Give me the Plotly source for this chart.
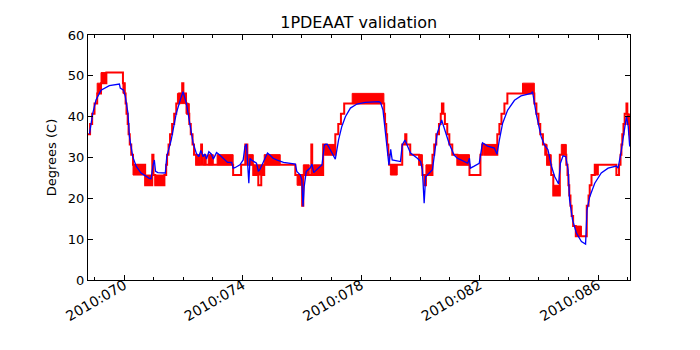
import plotly.graph_objects as go

# model prediction (day of year 2010, degC)
model_day = [68.83, 68.94, 69.05, 69.22, 69.50, 69.84, 69.87, 69.98, 70.04, 70.13, 70.18, 70.29,
             70.41, 70.57, 70.85, 70.91, 70.97, 71.02, 71.06, 71.14, 71.39, 71.44, 71.59, 71.76,
             71.93, 71.99, 72.10, 72.22, 72.33, 72.44, 72.52, 72.59, 72.67, 72.73, 72.78, 72.86,
             72.95, 73.01, 73.12, 73.23, 73.40, 73.49, 73.63, 73.68, 73.74, 73.91, 74.02, 74.08,
             74.13, 74.17, 74.21, 74.25, 74.30, 74.47, 74.53, 74.58, 74.73, 74.84, 74.92, 75.03,
             75.15, 75.38, 75.78, 75.83, 75.95, 76.00, 76.04, 76.08, 76.15, 76.23, 76.28, 76.34,
             76.40, 76.56, 76.68, 76.76, 76.85, 76.96, 77.07, 77.13, 77.24, 77.35, 77.47, 77.64,
             77.86, 78.14, 78.60, 78.66, 78.74, 78.83, 78.94, 79.00, 79.05, 79.33, 79.39, 79.48,
             79.56, 79.67, 79.90, 80.01, 80.07, 80.13, 80.18, 80.29, 80.41, 80.46, 80.57, 80.72,
             80.83, 80.97, 81.14, 81.25, 81.37, 81.60, 81.66, 81.69, 81.82, 81.99, 82.10, 82.27,
             82.50, 82.59, 82.67, 82.78, 82.95, 83.18, 83.40, 83.74, 83.79, 83.91, 84.08, 84.19,
             84.31, 84.43, 84.54, 84.67, 84.73, 84.82, 84.91, 84.99, 85.04, 85.14, 85.27, 85.44,
             85.58, 85.63, 85.72, 85.89, 86.11, 86.34, 86.62, 86.68, 86.79, 86.90, 86.96, 87.02,
             87.07]
model_temp = [35.8, 40.8, 44.1, 46.5, 47.6, 48.0, 47.0, 46.5, 44.9, 40.8, 35.1, 30.2,
              27.8, 26.2, 24.9, 24.8, 27.8, 29.4, 26.6, 26.3, 26.2, 30.2, 34.3, 40.8,
              44.9, 46.1, 43.3, 38.4, 33.5, 31.0, 30.2, 31.7, 30.2, 30.9, 29.6, 31.4,
              30.8, 29.6, 31.2, 30.6, 29.4, 28.8, 28.8, 27.4, 27.5, 28.2, 29.4, 32.7,
              33.3, 29.4, 23.7, 29.8, 29.4, 28.6, 26.6, 27.0, 29.4, 31.1, 30.6, 29.8,
              29.4, 28.8, 28.4, 26.6, 25.7, 24.5, 18.0, 22.9, 26.6, 27.0, 27.4, 28.4,
              26.3, 27.4, 28.2, 33.1, 33.3, 31.9, 30.6, 29.6, 34.3, 37.6, 40.0, 42.1,
              43.1, 43.5, 43.7, 43.4, 41.6, 35.9, 28.2, 32.0, 29.4, 29.0, 33.1, 34.3,
              33.1, 31.1, 29.8, 29.0, 27.0, 18.8, 25.3, 26.2, 27.0, 29.8, 35.9, 39.2,
              36.7, 33.5, 30.6, 29.8, 29.4, 28.6, 29.8, 27.4, 27.9, 28.6, 33.6, 32.8,
              32.3, 30.8, 34.3, 38.4, 41.6, 44.0, 45.1, 45.7, 46.1, 40.8, 35.1, 33.1,
              31.9, 27.8, 25.3, 23.5, 28.6, 30.4, 30.2, 27.0, 19.6, 14.7, 11.5, 9.4,
              8.8, 17.2, 20.4, 23.7, 26.2, 27.4, 27.9, 27.4, 31.9, 37.6, 40.0, 37.6,
              32.7]

# telemetry (quantized, held until next sample)
tlm_day = [68.78, 68.85, 68.92, 69.00, 69.09, 69.22, 69.40, 69.96, 70.02, 70.05, 70.08, 70.12,
           70.15, 70.19, 70.24, 70.30, 70.71, 70.95, 70.99, 71.05, 71.36, 71.42, 71.45, 71.50,
           71.55, 71.62, 71.69, 71.76, 71.86, 71.96, 72.00, 72.09, 72.13, 72.20, 72.25, 72.31,
           72.36, 72.43, 72.60, 72.63, 73.68, 73.95, 74.09, 74.16, 74.36, 74.53, 74.63, 74.73,
           75.78, 76.01, 76.05, 76.32, 76.35, 76.72, 76.79, 77.13, 77.23, 77.32, 77.43, 78.78,
           78.81, 78.85, 78.88, 78.92, 78.95, 79.39, 79.49, 79.53, 79.66, 79.96, 80.07, 80.14,
           80.19, 80.41, 80.47, 80.54, 80.63, 80.69, 80.73, 80.78, 80.83, 80.91, 80.98, 81.08,
           81.25, 81.66, 82.03, 82.09, 82.16, 82.60, 82.67, 82.74, 82.84, 82.94, 83.85, 83.92,
           83.99, 84.05, 84.14, 84.22, 84.28, 84.42, 84.49, 84.71, 84.93, 84.97, 85.00, 85.03,
           85.07, 85.11, 85.16, 85.25, 85.62, 85.68, 85.72, 85.78, 85.89, 86.62, 86.71, 86.76,
           86.79, 86.82, 86.86, 86.90, 86.96, 86.99, 87.06, 87.08]
tlm_temp = [35.7, 38.2, 40.7, 43.2, 45.7, 48.2, 50.8, 48.2, 45.7, 43.2, 40.7, 38.2,
            35.7, 33.2, 30.7, 28.2, 23.2, 30.7, 25.7, 23.2, 25.7, 28.2, 30.7, 33.2,
            35.7, 38.2, 40.7, 43.2, 45.7, 48.2, 45.7, 43.2, 40.7, 38.2, 35.7, 33.2,
            30.7, 28.2, 33.2, 28.2, 25.7, 28.2, 33.2, 28.2, 25.7, 23.2, 25.7, 28.2,
            25.7, 18.2, 25.7, 33.2, 25.7, 33.2, 30.7, 35.7, 38.2, 40.7, 43.2, 40.7,
            38.2, 35.7, 33.2, 30.7, 28.2, 33.2, 35.7, 33.2, 30.7, 28.2, 25.7, 23.2,
            25.7, 30.7, 33.2, 35.7, 38.2, 40.7, 43.2, 40.7, 38.2, 35.7, 33.2, 30.7,
            28.2, 25.7, 30.7, 33.2, 30.7, 35.7, 38.2, 40.7, 43.2, 45.7, 43.2, 40.7,
            38.2, 35.7, 33.2, 30.7, 28.2, 25.7, 20.7, 30.7, 28.2, 25.7, 23.2, 20.7,
            18.2, 15.7, 13.2, 10.7, 18.2, 20.7, 23.2, 25.7, 28.2, 25.7, 28.2, 30.7,
            33.2, 35.7, 38.2, 40.7, 43.2, 38.2, 35.7, 33.2]

# spans where telemetry flickers between two adjacent counts
band_start = [69.09, 69.22, 69.96, 70.30, 70.71, 71.05, 71.80, 72.09, 72.43, 72.67, 72.84, 73.14,
              74.19, 74.36, 74.73, 75.84, 76.05, 76.39, 76.79, 77.70, 78.99, 79.96, 80.19, 81.25,
              82.16, 83.45, 84.22, 84.28, 84.49, 84.76, 85.25, 85.89, 86.99]
band_end = [69.22, 69.40, 70.02, 70.71, 70.94, 71.36, 72.09, 72.20, 72.57, 72.77, 73.01, 73.68,
            74.36, 74.73, 75.27, 75.98, 76.25, 76.72, 77.13, 78.77, 79.22, 80.07, 80.41, 81.66,
            82.60, 83.85, 84.28, 84.42, 84.71, 84.93, 85.44, 86.01, 87.06]
band_lo = [45.7, 48.2, 45.7, 25.7, 23.2, 23.2, 43.2, 40.7, 28.2, 28.2, 28.2, 28.2,
           28.2, 25.7, 28.2, 23.2, 25.7, 25.7, 30.7, 43.2, 25.7, 28.2, 25.7, 28.2,
           30.7, 45.7, 30.7, 28.2, 20.7, 30.7, 10.7, 25.7, 38.2]
band_hi = [48.2, 50.8, 48.2, 28.2, 25.7, 25.7, 45.7, 43.2, 30.7, 30.7, 30.7, 30.7,
           30.7, 28.2, 30.7, 25.7, 28.2, 28.2, 33.2, 45.7, 28.2, 30.7, 28.2, 30.7,
           33.2, 48.2, 33.2, 30.7, 23.2, 33.2, 13.2, 28.2, 40.7]

tick_days = [70, 74, 78, 82, 86]
tick_labels = ["2010:070", "2010:074", "2010:078", "2010:082", "2010:086"]

fig = go.Figure()

# flicker bands as filled boxes
bx, by = [], []
for x0, x1, lo, hi in zip(band_start, band_end, band_lo, band_hi):
    bx += [x0, x1, x1, x0, x0, None]
    by += [lo, lo, hi, hi, lo, None]
fig.add_trace(go.Scatter(x=bx, y=by, mode="lines", fill="toself",
                         fillcolor="#ff0000", line=dict(color="#ff0000", width=1),
                         hoverinfo="skip", showlegend=False))

fig.add_trace(go.Scatter(x=tlm_day, y=tlm_temp, mode="lines", line_shape="hv",
                         line=dict(color="#ff0000", width=2), name="telemetry",
                         showlegend=False))

fig.add_trace(go.Scatter(x=model_day, y=model_temp, mode="lines",
                         line=dict(color="#0000ff", width=1.3), name="model",
                         showlegend=False))

# page body adds an 8px offset, so margins are shifted to compensate
fig.update_layout(
    width=700, height=350,
    paper_bgcolor="white", plot_bgcolor="white",
    margin=dict(l=80, r=78, t=27, b=78, autoexpand=False),
    font=dict(family="DejaVu Sans", size=13, color="black"),
    title=dict(text="1PDEAAT validation", x=0.501, xanchor="center",
               y=0.96, yanchor="middle", font=dict(size=16)),
)

fig.update_xaxes(
    range=[68.78, 87.08], automargin=False,
    tickmode="array", tickvals=tick_days, ticktext=tick_labels,
    tickangle=-30, tickfont=dict(size=14), ticklabelstandoff=-9,
    showgrid=False, zeroline=False,
    showline=True, linecolor="black", linewidth=1, mirror="ticks",
    ticks="inside", ticklen=5, tickcolor="black",
    minor=dict(ticks="inside", ticklen=3, dtick=1, tick0=70, tickcolor="black", showgrid=False),
)
fig.update_yaxes(
    range=[0, 60], dtick=10, automargin=False,
    title=dict(text="Degrees (C)", standoff=8, font=dict(size=13)),
    showgrid=False, zeroline=False,
    showline=True, linecolor="black", linewidth=1, mirror="ticks",
    ticks="inside", ticklen=5, tickcolor="black",
)

fig.write_html("out.html")
